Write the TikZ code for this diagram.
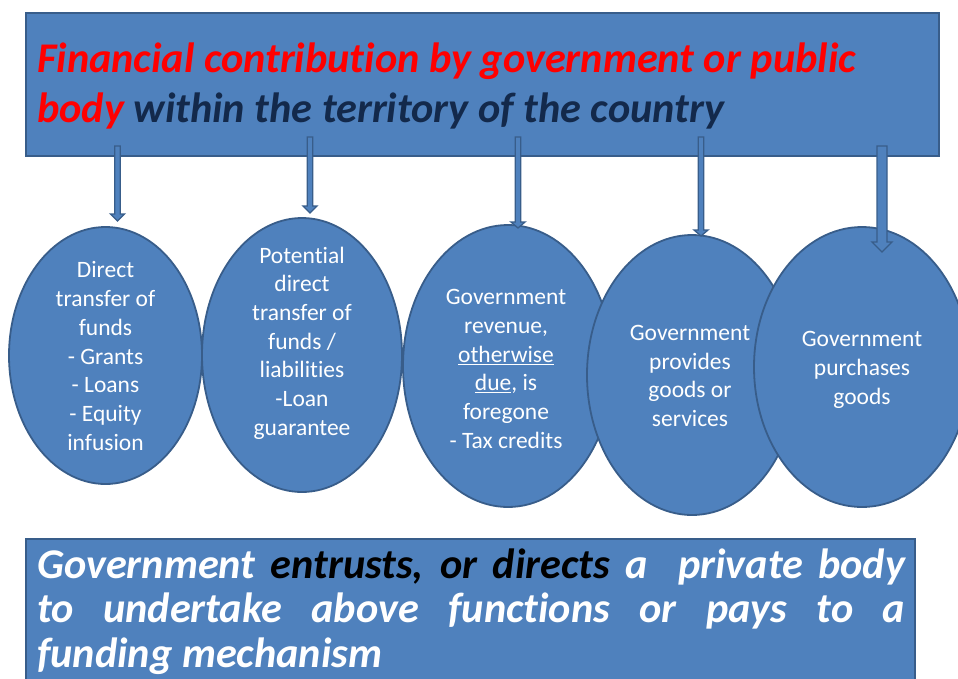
\documentclass[tikz,border=0pt]{standalone}
\usepackage{fontspec}
\setmainfont{Carlito}[Ligatures={NoCommon,NoContextual}]
\usetikzlibrary{shapes.geometric}
\definecolor{boxfill}{HTML}{4F81BD}
\definecolor{boxline}{HTML}{385D8A}
\definecolor{navytext}{HTML}{13294B}
\newcommand{\blkarrow}[6]{%
  \draw[arrowbody] ({#1-#4},#2) -- ({#1+#4},#2) -- ({#1+#4},{#3-#6}) -- ({#1+#5},{#3-#6}) -- (#1,#3) -- ({#1-#5},{#3-#6}) -- ({#1-#4},{#3-#6}) -- cycle;}
\begin{document}
\begin{tikzpicture}[x=1pt,y=-1pt,
  bigbox/.style={draw=boxline, fill=boxfill, line width=2pt, inner sep=0pt, anchor=north west},
  oval/.style={ellipse, draw=boxline, fill=boxfill, line width=1.8pt, inner sep=0pt},
  ovaltext/.style={text=white, align=center, inner sep=0pt, font=\fontsize{23.5}{28.7}\selectfont},
  arrowbody/.style={draw=boxline, fill=boxfill, line width=1.3pt, line join=miter},
  headline/.style={anchor=base west, inner sep=0pt, font=\fontsize{42.3}{50}\selectfont\bfseries\itshape},
  footline/.style={anchor=base west, inner sep=0pt, text=white, font=\fontsize{42.3}{45}\selectfont\bfseries\itshape}
]
\useasboundingbox (0,0) rectangle (958,678);
% top box
\node[bigbox, minimum width=913pt, minimum height=143pt] (top) at (25,12) {};
\node[headline, text=red] (t1) at (37,72) {Financial contribution by government or public};
\node[headline] (t2) at (37,122) {\textcolor{red}{body} \textcolor{navytext}{within the territory of the country}};
% ellipses
\node[oval, minimum width=193pt, minimum height=257pt] (e1) at (105.5,355.5) {};
\node[oval, minimum width=200pt, minimum height=274pt] (e2) at (302,355) {};
\node[oval, minimum width=210pt, minimum height=282pt] (e3) at (508,366) {};
\node[oval, minimum width=210pt, minimum height=280pt] (e4) at (692,375) {};
\node[oval, minimum width=216pt, minimum height=280pt] (e5) at (862,367) {};
\node[ovaltext] (e1t) at (105.5,356) {Direct\\transfer of\\funds\\- Grants\\- Loans\\- Equity\\infusion};
\node[ovaltext] (e2t) at (302,343) {Potential\\direct\\transfer of\\funds /\\liabilities\\-Loan\\guarantee};
\node[ovaltext] (e3t) at (506,369) {Government\\revenue,\\\underline{otherwise}\\\underline{due}, is\\foregone\\- Tax credits};
\node[ovaltext] (e4t) at (690,376) {Government\\provides\\goods or\\services};
\node[ovaltext] (e5t) at (862,370) {Government\\purchases\\goods};
% arrows from the top box to the ellipses
\blkarrow{117.5}{146}{221}{2.8}{7}{7}
\blkarrow{310}{137}{213}{2.8}{7}{7}
\blkarrow{518}{137}{228}{2.8}{7}{6}
\blkarrow{701}{137}{236}{2.8}{7}{6}
\blkarrow{882}{146}{252}{5}{10}{10}
% bottom box
\node[bigbox, minimum width=889pt, minimum height=160pt] (bot) at (25,538) {};
\node[footline] (b1) at (37,578) {\makebox[868pt][s]{Government \textcolor{black}{entrusts, or directs} a\ \ private body}};
\node[footline] (b2) at (37,622) {\makebox[868pt][s]{to undertake above functions or pays to a}};
\node[footline] (b3) at (37,667) {funding mechanism};
\end{tikzpicture}
\end{document}
